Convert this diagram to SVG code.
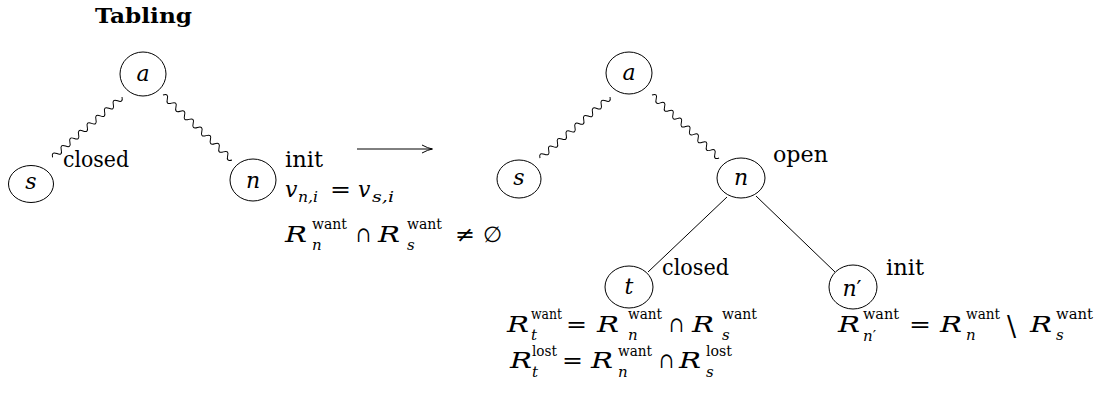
<svg xmlns="http://www.w3.org/2000/svg" xmlns:xlink="http://www.w3.org/1999/xlink" width="1101" height="394" viewBox="0 0 1101 394" font-family="'DejaVu Serif', 'Liberation Serif', serif">
<style>
text{font-family:'DejaVu Serif','Liberation Serif',serif;font-size:22px;fill:#000}
.i{font-style:italic}
.sc{font-size:15px}
.R{font-style:italic;font-size:23px}
.b{font-weight:bold;font-size:21px}
.nd{fill:#fff;stroke:#000;stroke-width:1}
.ed{fill:none;stroke:#000;stroke-width:1}
</style>
<defs>
<path id="wave" class="ed" d="M0,0 q2.875,-5.5 5.75,0 t5.75,0 t5.75,0 t5.75,0 t5.75,0 t5.75,0 t5.75,0 t5.75,0 t5.75,0 t5.75,0 t5.75,0 t5.75,0 t5.75,0 t5.75,0 t5.75,0 t5.75,0"/>
</defs>
<rect width="1101" height="394" fill="#fff"/>
<text class="b" x="95" y="23" textLength="97" lengthAdjust="spacingAndGlyphs">Tabling</text>

<g id="connectors">
<use xlink:href="#wave" transform="translate(122,97) rotate(139)"/>
<use xlink:href="#wave" transform="translate(163,95) rotate(43.3) scale(1.03,1)"/>
<use xlink:href="#wave" transform="translate(610,97) rotate(138.9) scale(1.01,1)"/>
<use xlink:href="#wave" transform="translate(652,95) rotate(43.2)"/>
<line class="ed" x1="727" y1="197" x2="648" y2="272"/>
<line class="ed" x1="756" y1="196" x2="835" y2="272"/>
<path class="ed" d="M357,149 H432"/>
<path class="ed" d="M422,145 Q428,148.3 432.5,149 Q428,149.7 422,153"/>
</g>

<g id="left-a"><ellipse class="nd" cx="143" cy="74" rx="23" ry="22"/><text class="i" x="143" y="81" text-anchor="middle">a</text></g>
<g id="left-s"><ellipse class="nd" cx="31" cy="184" rx="22.5" ry="18.5"/><text class="i" x="31" y="189" text-anchor="middle">s</text></g>
<g id="left-n"><ellipse class="nd" cx="253" cy="180" rx="23" ry="21"/><text class="i" x="253" y="188" text-anchor="middle">n</text></g>

<g id="right-a"><ellipse class="nd" cx="629" cy="73" rx="23" ry="21"/><text class="i" x="629" y="80" text-anchor="middle">a</text></g>
<g id="right-s"><ellipse class="nd" cx="519" cy="179" rx="22" ry="19"/><text class="i" x="519" y="185" text-anchor="middle">s</text></g>
<g id="right-n"><ellipse class="nd" cx="741" cy="178" rx="24" ry="20"/><text class="i" x="741" y="185" text-anchor="middle">n</text></g>
<g id="right-t"><ellipse class="nd" cx="629" cy="287" rx="24" ry="21"/><text class="i" x="629" y="294" text-anchor="middle">t</text></g>
<g id="right-n2"><ellipse class="nd" cx="853" cy="287" rx="24" ry="22"/><text class="i" x="852" y="296" text-anchor="middle">n<tspan font-style="normal">′</tspan></text></g>

<g id="labels">
<text x="63" y="167" textLength="66" lengthAdjust="spacingAndGlyphs">closed</text>
<text x="285" y="167" textLength="38" lengthAdjust="spacingAndGlyphs">init</text>
<text x="773" y="162" textLength="55" lengthAdjust="spacingAndGlyphs">open</text>
<text x="662" y="275" textLength="67" lengthAdjust="spacingAndGlyphs">closed</text>
<text x="886" y="275" textLength="38" lengthAdjust="spacingAndGlyphs">init</text>
</g>

<g id="formula-left">
<text class="i" x="285" y="197">v</text>
<text class="i sc" x="298" y="202" textLength="20" lengthAdjust="spacingAndGlyphs">n,i</text>
<text x="330" y="197" textLength="21" lengthAdjust="spacingAndGlyphs">=</text>
<text class="i" x="358" y="197">v</text>
<text class="i sc" x="372" y="202" textLength="22" lengthAdjust="spacingAndGlyphs">s,i</text>

<text class="R" x="285" y="242" textLength="22" lengthAdjust="spacingAndGlyphs">R</text>
<text class="sc" x="312" y="229" textLength="35" lengthAdjust="spacingAndGlyphs">want</text>
<text class="i sc" x="312" y="250">n</text>
<text x="356" y="242" textLength="15" lengthAdjust="spacingAndGlyphs">∩</text>
<text class="R" x="378" y="242" textLength="22" lengthAdjust="spacingAndGlyphs">R</text>
<text class="sc" x="407" y="229" textLength="35" lengthAdjust="spacingAndGlyphs">want</text>
<text class="i sc" x="407" y="250">s</text>
<text x="455" y="242" textLength="20" lengthAdjust="spacingAndGlyphs">≠</text>
<text x="483" y="242">∅</text>
</g>

<g id="formula-t">
<text class="R" x="507" y="332" textLength="22" lengthAdjust="spacingAndGlyphs">R</text>
<text class="sc" x="531" y="319" textLength="31" lengthAdjust="spacingAndGlyphs">want</text>
<text class="i sc" x="531" y="340">t</text>
<text x="566" y="332" textLength="21" lengthAdjust="spacingAndGlyphs">=</text>
<text class="R" x="597" y="332" textLength="22" lengthAdjust="spacingAndGlyphs">R</text>
<text class="sc" x="628" y="319" textLength="34" lengthAdjust="spacingAndGlyphs">want</text>
<text class="i sc" x="628" y="340">n</text>
<text x="669" y="332" textLength="15" lengthAdjust="spacingAndGlyphs">∩</text>
<text class="R" x="692" y="332" textLength="22" lengthAdjust="spacingAndGlyphs">R</text>
<text class="sc" x="722" y="319" textLength="35" lengthAdjust="spacingAndGlyphs">want</text>
<text class="i sc" x="722" y="340">s</text>

<text class="R" x="510" y="368" textLength="22" lengthAdjust="spacingAndGlyphs">R</text>
<text class="sc" x="532" y="356" textLength="25" lengthAdjust="spacingAndGlyphs">lost</text>
<text class="i sc" x="532" y="377">t</text>
<text x="562" y="368" textLength="21" lengthAdjust="spacingAndGlyphs">=</text>
<text class="R" x="591" y="368" textLength="22" lengthAdjust="spacingAndGlyphs">R</text>
<text class="sc" x="618" y="356" textLength="34" lengthAdjust="spacingAndGlyphs">want</text>
<text class="i sc" x="618" y="377">n</text>
<text x="659" y="368" textLength="15" lengthAdjust="spacingAndGlyphs">∩</text>
<text class="R" x="679" y="368" textLength="22" lengthAdjust="spacingAndGlyphs">R</text>
<text class="sc" x="706" y="356" textLength="26" lengthAdjust="spacingAndGlyphs">lost</text>
<text class="i sc" x="706" y="377">s</text>
</g>

<g id="formula-n2">
<text class="R" x="838" y="332" textLength="22" lengthAdjust="spacingAndGlyphs">R</text>
<text class="sc" x="863" y="319" textLength="36" lengthAdjust="spacingAndGlyphs">want</text>
<text class="i sc" x="863" y="341">n<tspan font-style="normal">′</tspan></text>
<text x="909" y="332" textLength="22" lengthAdjust="spacingAndGlyphs">=</text>
<text class="R" x="940" y="332" textLength="22" lengthAdjust="spacingAndGlyphs">R</text>
<text class="sc" x="966" y="319" textLength="34" lengthAdjust="spacingAndGlyphs">want</text>
<text class="i sc" x="966" y="340">n</text>
<text x="1007" y="336" style="font-size:27px">\</text>
<text class="R" x="1030" y="332" textLength="22" lengthAdjust="spacingAndGlyphs">R</text>
<text class="sc" x="1056" y="319" textLength="37" lengthAdjust="spacingAndGlyphs">want</text>
<text class="i sc" x="1056" y="340">s</text>
</g>
</svg>
